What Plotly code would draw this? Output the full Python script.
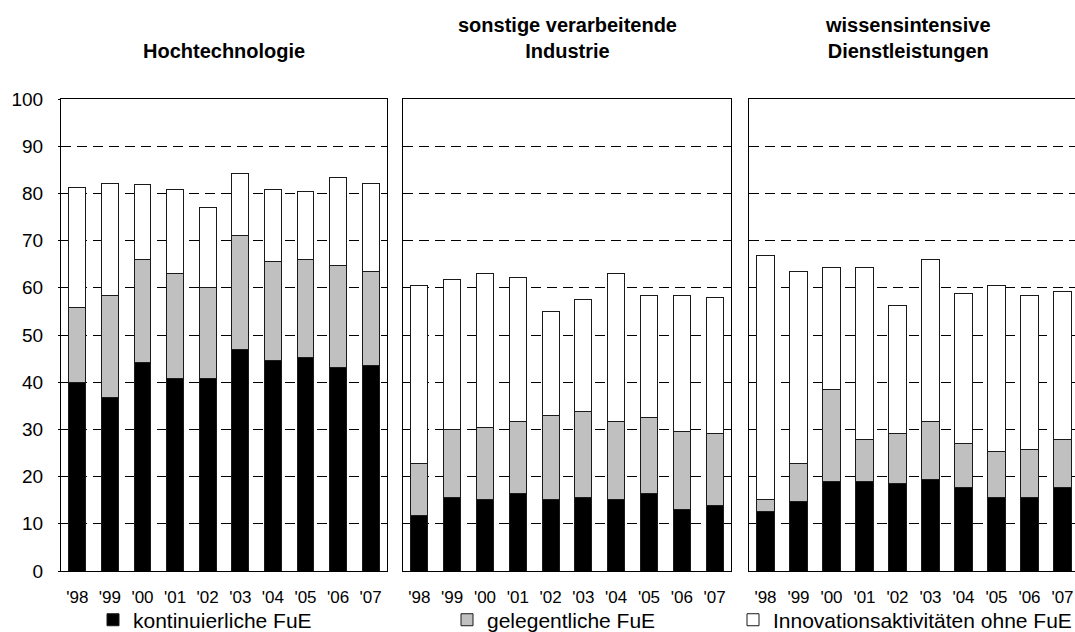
import plotly.graph_objects as go

years = ["'98", "'99", "'00", "'01", "'02", "'03", "'04", "'05", "'06", "'07"]

panel_titles = ["Hochtechnologie", "sonstige verarbeitende<br>Industrie", "wissensintensive<br>Dienstleistungen"]
series_names = ["kontinuierliche FuE", "gelegentliche FuE", "Innovationsaktivitäten ohne FuE"]

# Hochtechnologie
hoch_kont = [39.9, 36.8, 44.1, 40.7, 40.7, 47.0, 44.5, 45.3, 43.2, 43.6]
hoch_gel = [16.0, 21.6, 22.0, 22.4, 19.4, 24.1, 21.1, 20.8, 21.6, 19.9]
hoch_ohne = [25.4, 23.8, 15.7, 17.8, 17.0, 13.2, 15.3, 14.4, 18.6, 18.7]

# sonstige verarbeitende Industrie
sonst_kont = [11.8, 15.6, 15.2, 16.5, 15.2, 15.6, 15.2, 16.5, 13.1, 13.9]
sonst_gel = [11.0, 14.4, 15.2, 15.2, 17.8, 18.2, 16.5, 16.0, 16.5, 15.2]
sonst_ohne = [37.7, 31.8, 32.7, 30.5, 22.0, 23.8, 31.4, 25.9, 28.8, 28.9]

# wissensintensive Dienstleistungen
wiss_kont = [12.7, 14.8, 19.0, 19.0, 18.6, 19.4, 17.7, 15.6, 15.6, 17.7]
wiss_gel = [2.4, 8.0, 19.5, 8.9, 10.5, 12.3, 9.3, 9.7, 10.2, 10.2]
wiss_ohne = [51.8, 40.7, 25.9, 36.5, 27.2, 34.4, 31.8, 35.2, 32.6, 31.4]

panels = [
    (hoch_kont, hoch_gel, hoch_ohne),
    (sonst_kont, sonst_gel, sonst_ohne),
    (wiss_kont, wiss_gel, wiss_ohne),
]

fills = ["#000000", "#c0c0c0", "#ffffff"]
legend_ids = ["legend", "legend2", "legend3"]
FONT = "Liberation Sans, Arial, sans-serif"

fig = go.Figure()
for p, data in enumerate(panels):
    ax = "" if p == 0 else str(p + 1)
    for s, vals in enumerate(data):
        fig.add_trace(go.Bar(
            x=years, y=vals, name=series_names[s],
            xaxis="x" + ax, yaxis="y" + ax,
            marker=dict(color=fills[s], line=dict(color="#1a1a1a", width=1)),
            width=0.52,
            legendgroup=series_names[s],
            showlegend=(p == 0),
            legend=legend_ids[s],
            hoverinfo="x+y+name",
        ))

L = 61
W = 1075
PW = W - L
def px(x):
    return (x - L) / PW

domains = [[px(61), px(387)], [px(403), px(731)], [px(749), 1.0]]
xranges = [[-0.5, 9.5], [-0.5, 9.5], [-0.5, 9.38]]

layout = dict(
    width=W, height=632,
    margin=dict(l=L, r=0, t=99, b=61, autoexpand=False),
    paper_bgcolor="white", plot_bgcolor="white",
    barmode="stack",
    font=dict(family=FONT, color="black"),
)

for p in range(3):
    ax = "" if p == 0 else str(p + 1)
    layout["xaxis" + ax] = dict(
        domain=domains[p], range=xranges[p], type="category",
        anchor="y" + ax,
        showline=True, linecolor="black", linewidth=1, mirror=True,
        showgrid=False, ticks="", tickfont=dict(size=17, family=FONT),
        ticklabelstandoff=11, fixedrange=True,
    )
    layout["yaxis" + ax] = dict(
        domain=[0, 1], range=[0, 100], dtick=10, anchor="x" + ax,
        showline=True, linecolor="black", linewidth=1,
        mirror=(p < 2),
        showgrid=True, gridcolor="black", gridwidth=1, griddash="10px,6px",
        zeroline=False,
        showticklabels=(p == 0),
        ticks="outside" if p == 0 else "", ticklen=2, tickcolor="black",
        tickfont=dict(size=19, family=FONT),
        ticklabelstandoff=11, fixedrange=True,
    )

ly = -0.104
layout["legend"] = dict(x=px(93), y=ly, xanchor="left", yanchor="middle",
                        font=dict(size=21, family=FONT), bgcolor="rgba(0,0,0,0)")
layout["legend2"] = dict(x=px(447), y=ly, xanchor="left", yanchor="middle",
                         font=dict(size=21, family=FONT), bgcolor="rgba(0,0,0,0)")
layout["legend3"] = dict(x=px(733), y=ly, xanchor="left", yanchor="middle",
                         font=dict(size=21, family=FONT), bgcolor="rgba(0,0,0,0)")

centers = [224, 567, 908]
layout["annotations"] = [
    dict(text="<b>" + t + "</b>", x=px(c), y=1 + (99 - 64) / 472,
         xref="paper", yref="paper", xanchor="center", yanchor="bottom",
         showarrow=False, font=dict(size=20, family=FONT, color="black"), align="center")
    for t, c in zip(panel_titles, centers)
]

fig.update_layout(**layout)
fig.write_html(
    "out.html",
    config={"displayModeBar": False},
    post_script="document.body.style.margin='0';document.body.style.overflow='hidden';",
)
